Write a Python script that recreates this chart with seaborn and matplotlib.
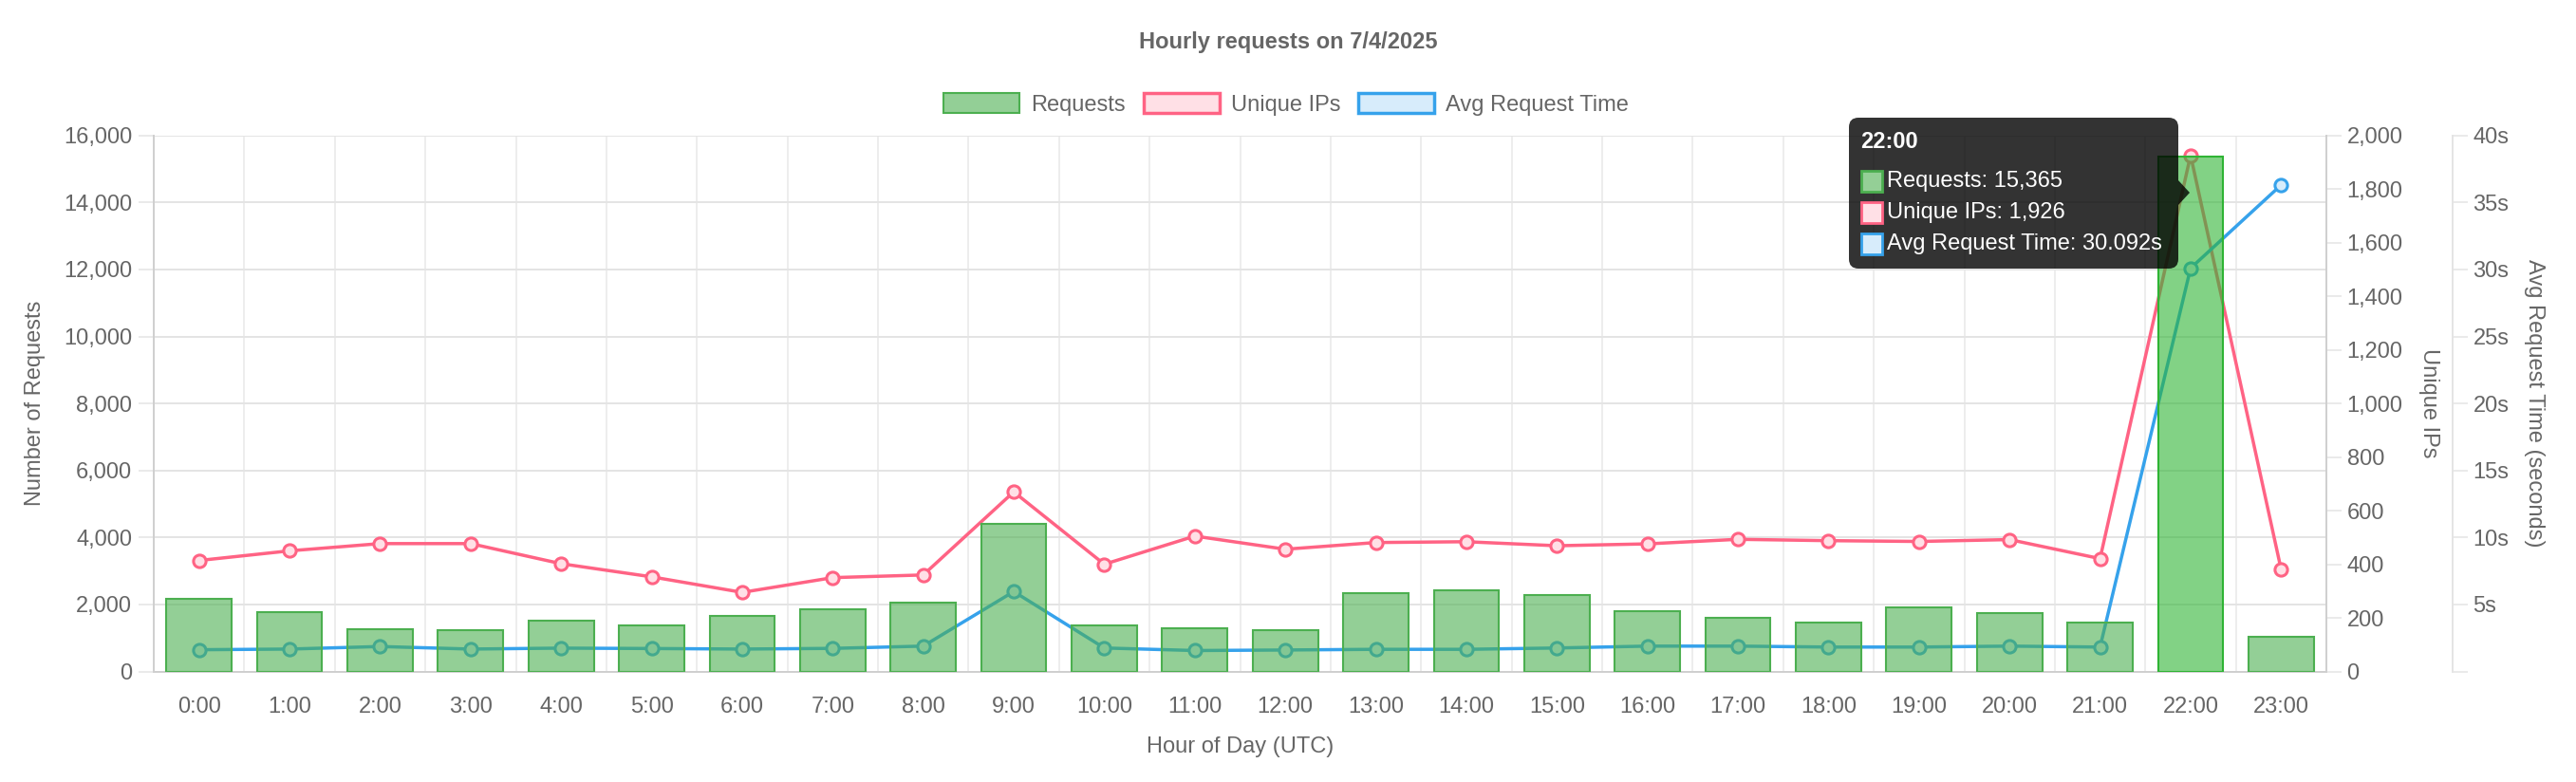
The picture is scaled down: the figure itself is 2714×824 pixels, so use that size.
import numpy as np
import matplotlib
matplotlib.use("Agg")
import matplotlib.pyplot as plt
import seaborn as sns
from matplotlib.patches import Patch, FancyBboxPatch, Polygon, Rectangle
from matplotlib.ticker import FuncFormatter, MultipleLocator, FixedLocator

# data
hours = ["0:00", "1:00", "2:00", "3:00", "4:00", "5:00", "6:00", "7:00",
         "8:00", "9:00", "10:00", "11:00", "12:00", "13:00", "14:00", "15:00",
         "16:00", "17:00", "18:00", "19:00", "20:00", "21:00", "22:00", "23:00"]
requests = [2170, 1770, 1270, 1230, 1520, 1380, 1660, 1850,
            2050, 4400, 1360, 1280, 1235, 2345, 2410, 2290,
            1800, 1610, 1470, 1905, 1735, 1470, 15365, 1045]
unique_ips = [414, 450, 477, 477, 402, 353, 295, 350,
              360, 670, 400, 505, 456, 481, 484, 469,
              476, 493, 488, 485, 492, 421, 1926, 381]
avg_time = [1.62, 1.67, 1.86, 1.67, 1.74, 1.71, 1.67, 1.72,
            1.89, 5.96, 1.75, 1.56, 1.60, 1.65, 1.65, 1.75,
            1.89, 1.89, 1.82, 1.82, 1.89, 1.82, 30.092, 36.3]
hover_idx = 22

W, H = 2714, 824
TXT = "#666666"
GRID = "#e4e4e4"
SPINE = "#cfcfcf"
GREEN = (76/255, 175/255, 80/255)
GREEN_HOVER = (47/255, 180/255, 52/255)
PINK = "#ff6384"
PINK_FILL = "#ffe0e6"
BLUE = "#36a2eb"
BLUE_FILL = "#d7ecfb"
FS = 17

sns.set_style("white")
plt.rcParams["font.family"] = ["Liberation Sans", "DejaVu Sans"]

fig = plt.figure(figsize=(W / 100, H / 100), dpi=100)
left, right, top, bottom = 162, 2451, 142.7, 707.5
ax = fig.add_axes([left / W, 1 - bottom / H, (right - left) / W, (bottom - top) / H])
ax_ip = ax.twinx()
ax_t = ax.twinx()
ax_bar = ax.twinx()

x = np.arange(len(hours))

# lines (drawn under the bars, like the original)
sns.lineplot(x=x, y=unique_ips, ax=ax_ip, color=PINK, linewidth=2.5,
             marker="o", markersize=9.5, markerfacecolor=PINK_FILL,
             markeredgecolor=PINK, markeredgewidth=2.2)
sns.lineplot(x=x, y=avg_time, ax=ax_t, color=BLUE, linewidth=2.5,
             marker="o", markersize=9.5, markerfacecolor=BLUE_FILL,
             markeredgecolor=BLUE, markeredgewidth=2.2)

# bars on top with transparency
sns.barplot(x=hours, y=requests, ax=ax_bar, color=GREEN, saturation=1,
            width=0.72, linewidth=1.5, edgecolor=GREEN)
for i, p in enumerate(ax_bar.patches):
    if i == hover_idx:
        p.set_facecolor((*GREEN_HOVER, 0.6))
        p.set_edgecolor(GREEN_HOVER)
    else:
        p.set_facecolor((*GREEN, 0.6))
        p.set_edgecolor(GREEN)

# limits
for a in (ax, ax_ip, ax_t, ax_bar):
    a.set_xlim(-0.5, len(hours) - 0.5)
ax.set_ylim(0, 16000)
ax_bar.set_ylim(0, 16000)
ax_ip.set_ylim(0, 2000)
ax_t.set_ylim(0, 40)

# bar axes: invisible scaffolding
ax_bar.yaxis.set_visible(False)
ax_bar.set_xlabel("")
ax_bar.set_ylabel("")
for s in ax_bar.spines.values():
    s.set_visible(False)

# x axis
ax.xaxis.set_major_locator(FixedLocator(x))
ax.set_xticklabels(hours)
ax.xaxis.set_minor_locator(FixedLocator(np.arange(-0.5, len(hours), 1.0)))
ax.tick_params(axis="x", which="major", length=0, pad=19, labelsize=FS, labelcolor=TXT)
ax.tick_params(axis="x", which="minor", length=11.5, width=1.1, color=GRID)
ax.grid(axis="x", which="minor", color="#e8e8e8", linewidth=1.1)
ax.grid(axis="x", which="major", visible=False)

# left y axis
ax.yaxis.set_major_locator(MultipleLocator(2000))
ax.yaxis.set_major_formatter(FuncFormatter(lambda v, _: f"{v:,.0f}"))
ax.tick_params(axis="y", length=11.5, width=1.1, color=GRID, pad=5,
               labelsize=FS, labelcolor=TXT)
ax.grid(axis="y", which="major", color=GRID, linewidth=1.4)
ax.set_axisbelow(True)

# unique ips axis
ax_ip.yaxis.set_major_locator(MultipleLocator(200))
ax_ip.yaxis.set_major_formatter(FuncFormatter(lambda v, _: f"{v:,.0f}"))
ax_ip.tick_params(axis="y", length=11.5, width=1.1, color=GRID, pad=4,
                  labelsize=FS, labelcolor=TXT)
ax_ip.set_ylabel("")

# avg request time axis (outward offset is in points: 133 px at 100 dpi)
ax_t.spines["right"].set_position(("outward", 133 * 0.72))
ax_t.yaxis.set_major_locator(MultipleLocator(5))
ax_t.yaxis.set_major_formatter(FuncFormatter(lambda v, _: "" if v == 0 else f"{v:g}s"))
ax_t.tick_params(axis="y", length=11.5, width=1.1, color=GRID, pad=4,
                 labelsize=FS, labelcolor=TXT)
ax_t.set_ylabel("")

for a in (ax, ax_ip, ax_t):
    for s in a.spines.values():
        s.set_visible(False)
ax.spines["left"].set_visible(True)
ax.spines["left"].set_color(SPINE)
ax.spines["left"].set_linewidth(1.4)
ax.spines["bottom"].set_visible(True)
ax.spines["bottom"].set_color(SPINE)
ax.spines["bottom"].set_linewidth(1.4)
ax_ip.spines["right"].set_visible(True)
ax_ip.spines["right"].set_color(SPINE)
ax_ip.spines["right"].set_linewidth(1.4)
ax_t.spines["right"].set_visible(True)
ax_t.spines["right"].set_color(GRID)
ax_t.spines["right"].set_linewidth(1.4)

# titles and axis labels
fig.text(0.5, 1 - 45 / H, "Hourly requests on 7/4/2025", ha="center", va="center",
         fontsize=FS, fontweight="bold", color=TXT)
fig.text(37 / W, 1 - 425 / H, "Number of Requests", rotation=90, ha="center",
         va="center", fontsize=FS, color=TXT)
fig.text(2559 / W, 1 - 425 / H, "Unique IPs", rotation=270, ha="center",
         va="center", fontsize=FS, color=TXT)
fig.text(2670 / W, 1 - 425 / H, "Avg Request Time (seconds)", rotation=270,
         ha="center", va="center", fontsize=FS, color=TXT)
fig.text((left + right) / 2 / W, 1 - 787 / H, "Hour of Day (UTC)", ha="center",
         va="center", fontsize=FS, color=TXT)

# legend
handles = [
    Patch(facecolor=(*GREEN, 0.6), edgecolor=GREEN, linewidth=1.5, label="Requests"),
    Patch(facecolor=PINK_FILL, edgecolor=PINK, linewidth=2.5, label="Unique IPs"),
    Patch(facecolor=BLUE_FILL, edgecolor=BLUE, linewidth=2.5, label="Avg Request Time"),
]
leg = fig.legend(handles=handles, loc="center", bbox_to_anchor=(1355 / W, 1 - 110 / H),
                 ncol=3, frameon=False, fontsize=FS, handlelength=3.4,
                 handleheight=1.0, handletextpad=0.5, columnspacing=0.8)
for t in leg.get_texts():
    t.set_color(TXT)

# hover tooltip for 22:00
tr = fig.dpi_scale_trans
def inch(px_x, px_y):
    return px_x / 100, (H - px_y) / 100

bx0, by0 = inch(1948, 283)
fig.add_artist(FancyBboxPatch((bx0, by0), (2295 - 1948) / 100, (283 - 124) / 100,
                              boxstyle="round,pad=0,rounding_size=0.1",
                              fc=(0, 0, 0, 0.8), ec="none", transform=tr))
fig.add_artist(Polygon([inch(2295, 190), inch(2307, 203), inch(2295, 216)],
                       closed=True, fc=(0, 0, 0, 0.8), ec="none", transform=tr))
fig.text(*inch(1960, 150), hours[hover_idx], transform=tr, ha="left", va="center",
         fontsize=FS, fontweight="bold", color="white")
tip_rows = [
    (f"Requests: {requests[hover_idx]:,}", (148/255, 207/255, 150/255), GREEN),
    (f"Unique IPs: {unique_ips[hover_idx]:,}", PINK_FILL, PINK),
    (f"Avg Request Time: {avg_time[hover_idx]:.3f}s", BLUE_FILL, BLUE),
]
for k, (label, fc, ec) in enumerate(tip_rows):
    cy = 191 + 33 * k
    rx, ry = inch(1961, cy + 11)
    fig.add_artist(Rectangle((rx, ry), 0.22, 0.22, fc=fc, ec=ec, linewidth=2.0,
                             transform=tr))
    fig.text(*inch(1988, cy), label, transform=tr, ha="left", va="center",
             fontsize=FS, color="white")

fig.savefig("out.png", dpi=100)
